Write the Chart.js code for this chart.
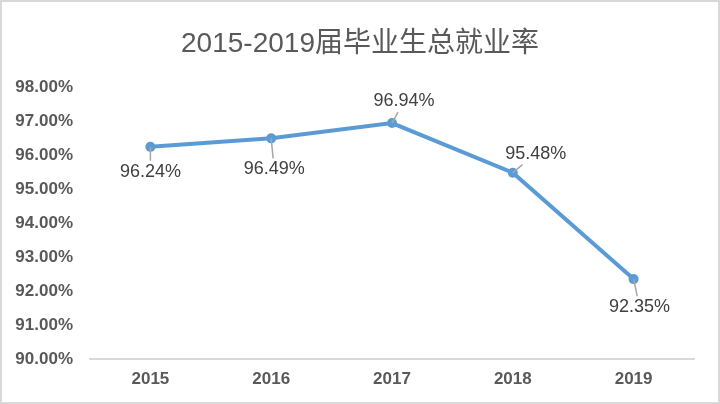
<!DOCTYPE html>
<html>
<head>
<meta charset="utf-8">
<script src="https://cdn.jsdelivr.net/npm/chart.js@4.4.0/dist/chart.umd.min.js"></script>
<style>
  body { margin: 0; background: #fff; }
  #wrap { width: 720px; height: 404px; }
</style>
</head>
<body>
<div id="wrap"><canvas id="chartLine" width="720" height="404"></canvas></div>
<script>
const years = ["2015", "2016", "2017", "2018", "2019"];
const rates = [96.24, 96.49, 96.94, 95.48, 92.35];
const yMin = 90, yMax = 98;
const titleText = "2015-2019届毕业生总就业率";

// where each data label sits relative to its point (px)
const labelOffsets = [[0, 25], [3, 31], [12, -22], [23, -19], [6, 28]];

const fontFamily = '"Liberation Sans", Arial, "Noto Sans CJK SC", sans-serif';

const framePlugin = {
  id: "frame",
  beforeDraw(chart) {
    const c = chart.ctx;
    c.save();
    c.fillStyle = "#fff";
    c.fillRect(0, 0, chart.width, chart.height);
    c.strokeStyle = "#d9d9d9";
    c.lineWidth = 2;
    c.strokeRect(1, 1, chart.width - 2, chart.height - 2);
    // title, centred on the whole picture
    c.fillStyle = "#595959";
    c.font = "28px " + fontFamily;
    c.textAlign = "center";
    c.textBaseline = "middle";
    c.fillText(titleText, chart.width / 2, 44);
    c.restore();
  }
};

const labelPlugin = {
  id: "pointLabels",
  afterDatasetsDraw(chart) {
    const c = chart.ctx;
    const pts = chart.getDatasetMeta(0).data;
    c.save();
    c.font = "18px " + fontFamily;
    c.textAlign = "center";
    c.textBaseline = "middle";
    pts.forEach((p, i) => {
      const [dx, dy] = labelOffsets[i];
      const lx = p.x + dx, ly = p.y + dy;
      const txt = rates[i].toFixed(2) + "%";
      // leader line, from point toward label box edge
      const hw = c.measureText(txt).width / 2 + 2, hh = 11;
      const t = Math.min(dx ? hw / Math.abs(dx) : Infinity, dy ? hh / Math.abs(dy) : Infinity);
      const ex = lx - dx * t, ey = ly - dy * t;
      c.strokeStyle = "#a6a6a6";
      c.lineWidth = 1.5;
      c.beginPath();
      c.moveTo(p.x, p.y);
      c.lineTo(ex, ey);
      c.stroke();
      c.fillStyle = "#404040";
      c.fillText(txt, lx, ly);
    });
    c.restore();
  }
};

new Chart(document.getElementById("chartLine").getContext("2d"), {
  type: "line",
  data: {
    labels: years,
    datasets: [{
      label: "总就业率",
      data: rates,
      borderColor: "#5B9BD5",
      backgroundColor: "#5B9BD5",
      borderWidth: 4,
      pointRadius: 5,
      pointBackgroundColor: "#5B9BD5",
      pointBorderWidth: 0,
      tension: 0
    }]
  },
  options: {
    responsive: false,
    animation: false,
    layout: { padding: { left: 0, right: 26, top: 87, bottom: 0 } },
    plugins: {
      legend: { display: false },
      tooltip: { enabled: false },
      title: { display: false }
    },
    scales: {
      x: {
        offset: true,
        grid: { display: true, drawOnChartArea: false, drawTicks: false },
        border: { display: true, color: "#d9d9d9", width: 2 },
        ticks: {
          color: "#595959",
          padding: 10,
          font: { size: 17, weight: "bold", family: fontFamily }
        },
        afterFit(s) { s.height = 45; }
      },
      y: {
        min: yMin,
        max: yMax,
        grid: { display: false, drawTicks: false },
        border: { display: false },
        ticks: {
          stepSize: 1,
          color: "#595959",
          padding: 17,
          font: { size: 17, weight: "bold", family: fontFamily },
          callback: v => v.toFixed(2) + "%"
        },
        afterFit(s) { s.width = 90; }
      }
    }
  },
  plugins: [framePlugin, labelPlugin]
});
</script>
</body>
</html>
